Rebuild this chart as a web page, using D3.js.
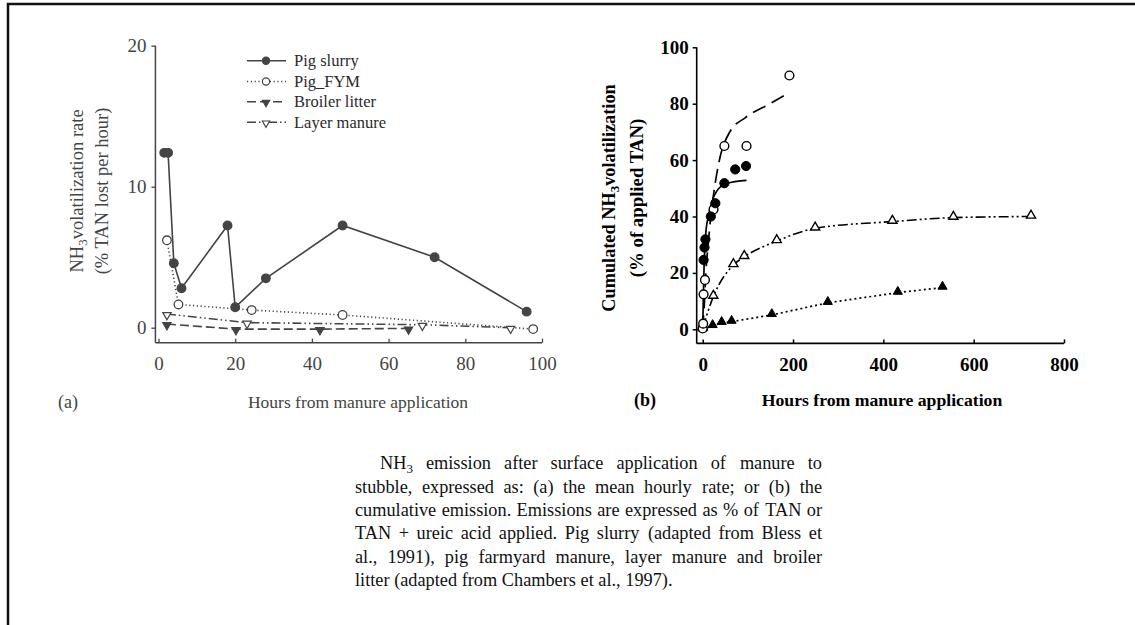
<!DOCTYPE html>
<html>
<head>
<meta charset="utf-8">
<script src="https://cdn.jsdelivr.net/npm/d3@7"></script>
<style>
  html, body { margin: 0; padding: 0; background: #fff; }
  svg { display: block; }
  text { font-family: "Liberation Serif", "Times New Roman", serif; }
</style>
</head>
<body>
<svg id="chart" width="1135" height="625"></svg>
<script>
// ---------------- DATA ----------------
// Panel (a): mean hourly NH3 volatilization rate (% TAN lost per hour)
const rateTicksX = [0, 20, 40, 60, 80, 100];
const rateTicksY = [0, 10, 20];
const slurryRateX = [1.5, 2.5, 4, 6, 18, 20, 28, 48, 72, 96];
const slurryRateY = [12.4, 12.4, 4.57, 2.8, 7.25, 1.45, 3.5, 7.25, 5.0, 1.14];
const fymRateX = [2.2, 5.2, 24.3, 48, 97.7];
const fymRateY = [6.2, 1.65, 1.25, 0.9, -0.1];
const broilerRateX = [2.2, 20.2, 42.1, 65.2];
const broilerRateY = [0.26, -0.1, -0.1, -0.05];
const layerRateX = [2.2, 23.1, 68.8, 91.8];
const layerRateY = [0.97, 0.36, 0.21, 0.0];
const legendLabels = ["Pig slurry", "Pig_FYM", "Broiler litter", "Layer manure"];

// Panel (b): cumulated NH3 volatilization (% of applied TAN)
const cumTicksX = [0, 200, 400, 600, 800];
const cumTicksY = [0, 20, 40, 60, 80, 100];
const slurryCumX = [2, 4, 6, 18, 28, 48, 72, 96];
const slurryCumY = [24.6, 29, 31.9, 40, 44.7, 51.8, 56.7, 57.9];
const slurryFitX = [0, 1.5, 3, 5, 8, 12.5, 20, 31, 53, 97];
const slurryFitY = [0, 12, 22, 30, 36, 40, 45, 49, 51.7, 52.8];
const fymCumX = [0, 1, 2, 5, 24, 48, 97, 192];
const fymCumY = [0.3, 2, 12.4, 17.5, 42.5, 65, 65, 90];
const fymFitX = [0, 2, 4, 7, 12, 18, 26, 37, 60, 94, 149, 182];
const fymFitY = [0, 5, 10, 20, 30, 40, 50, 60, 70, 75, 80, 83];
const layerCumX = [0, 23.6, 68, 92, 164, 249, 420, 555, 727];
const layerCumY = [0.5, 11.6, 22.8, 25.7, 31.3, 35.8, 38.2, 39.6, 40];
const broilerCumX = [0, 22, 42, 64, 153, 277, 432, 531];
const broilerCumY = [0, 1.2, 2.3, 2.7, 5.1, 9.4, 13, 14.8];

// Caption lines (words; "NH_3" marks a subscript)
const captionLines = [
  "NH_3 emission after surface application of manure to",
  "stubble, expressed as: (a) the mean hourly rate; or (b) the",
  "cumulative emission. Emissions are expressed as % of TAN or",
  "TAN + ureic acid applied. Pig slurry (adapted from Bless et",
  "al., 1991), pig farmyard manure, layer manure and broiler",
  "litter (adapted from Chambers et al., 1997)."
];

// ---------------- DRAWING ----------------
const svg = d3.select("#chart");
svg.append("rect").attr("width", 1135).attr("height", 625).attr("fill", "#fff");

// page frame (top and left edges)
svg.append("path").attr("d", "M8,625 V4 H1135")
  .attr("fill", "none").attr("stroke", "#111").attr("stroke-width", 2.5);

const zip = (xs, ys) => xs.map((x, i) => [x, ys[i]]);

// ===== Panel (a) =====
const gA = svg.append("g");
const colA = "#444";
const xL = d3.scaleLinear().domain([0, 100]).range([158.5, 542]);
const yL = d3.scaleLinear().domain([0, 20]).range([327.7, 45.7]);
const xLmin = -0.8, yLmin = -1.06;

gA.append("line").attr("x1", xL(xLmin)).attr("x2", xL(xLmin))
  .attr("y1", yL(20)).attr("y2", yL(yLmin)).attr("stroke", colA).attr("stroke-width", 1.5);
gA.append("line").attr("x1", xL(xLmin)).attr("x2", xL(100))
  .attr("y1", yL(yLmin)).attr("y2", yL(yLmin)).attr("stroke", colA).attr("stroke-width", 1.5);

const axYL = gA.append("g").attr("transform", `translate(${xL(xLmin)},0)`)
  .call(d3.axisLeft(yL).tickValues(rateTicksY).tickSize(4).tickPadding(5).tickFormat(d3.format("d")));
const axXL = gA.append("g").attr("transform", `translate(0,${yL(yLmin)})`)
  .call(d3.axisBottom(xL).tickValues(rateTicksX).tickSize(-4).tickPadding(14).tickFormat(d3.format("d")));
[axYL, axXL].forEach(a => {
  a.select(".domain").remove();
  a.selectAll("line").attr("stroke", colA).attr("stroke-width", 1.3);
  a.selectAll("text").attr("fill", colA).attr("font-size", 19)
    .attr("font-family", "Liberation Serif, serif");
});

const lineA = d3.line().x(d => xL(d[0])).y(d => yL(d[1]));
const seriesA = [
  {x: slurryRateX, y: slurryRateY, dash: null, marker: "circle", fill: colA},
  {x: fymRateX, y: fymRateY, dash: "1.2,2.6", marker: "circle", fill: "#fff"},
  {x: broilerRateX, y: broilerRateY, dash: "9,4", marker: "tri", fill: colA},
  {x: layerRateX, y: layerRateY, dash: "9,3,1.5,3,1.5,3", marker: "tri", fill: "#fff"}
];
const triDown = d3.symbol().type(d3.symbolTriangle).size(30);
seriesA.forEach(s => {
  const pts = zip(s.x, s.y);
  gA.append("path").attr("d", lineA(pts)).attr("fill", "none")
    .attr("stroke", colA).attr("stroke-width", 1.6)
    .attr("stroke-dasharray", s.dash);
});
seriesA.forEach(s => {
  const pts = zip(s.x, s.y);
  if (s.marker === "circle") {
    gA.selectAll(null).data(pts).enter().append("circle")
      .attr("cx", d => xL(d[0])).attr("cy", d => yL(d[1])).attr("r", 4.3)
      .attr("fill", s.fill).attr("stroke", colA).attr("stroke-width", 1.3);
  } else {
    gA.selectAll(null).data(pts).enter().append("path")
      .attr("d", triDown)
      .attr("transform", d => `translate(${xL(d[0])},${yL(d[1]) + 1}) rotate(180)`)
      .attr("fill", s.fill).attr("stroke", colA).attr("stroke-width", 1.2);
  }
});

// legend
const legY = [60.7, 81.5, 101.7, 122.3];
seriesA.forEach((s, i) => {
  const g = gA.append("g").attr("transform", `translate(0,${legY[i]})`);
  g.append("line").attr("x1", 247).attr("x2", 286).attr("y1", 0).attr("y2", 0)
    .attr("stroke", colA).attr("stroke-width", 1.6).attr("stroke-dasharray", s.dash);
  if (s.marker === "circle") {
    g.append("circle").attr("cx", 266).attr("cy", 0).attr("r", 3.6)
      .attr("fill", s.fill).attr("stroke", colA).attr("stroke-width", 1.2);
  } else {
    g.append("path").attr("d", d3.symbol().type(d3.symbolTriangle).size(24))
      .attr("transform", "translate(266,0.8) rotate(180)")
      .attr("fill", s.fill).attr("stroke", colA).attr("stroke-width", 1.1);
  }
  g.append("text").attr("x", 294).attr("y", 0).attr("dy", "0.35em")
    .attr("font-size", 16.5).attr("fill", "#2a2a2a").text(legendLabels[i]);
});

// titles (a)
gA.append("text").attr("x", 68).attr("y", 402).attr("dy", "0.35em").attr("text-anchor", "middle")
  .attr("font-size", 18).attr("fill", colA).text("(a)");
gA.append("text").attr("x", 358).attr("y", 402).attr("dy", "0.35em").attr("text-anchor", "middle")
  .attr("font-size", 17.5).attr("fill", colA).text("Hours from manure application");
const ytA1 = gA.append("text").attr("transform", "translate(76.5,191) rotate(-90)")
  .attr("dy", "0.35em").attr("text-anchor", "middle").attr("font-size", 18.5).attr("fill", colA);
ytA1.append("tspan").text("NH");
ytA1.append("tspan").attr("font-size", 13).attr("dy", 4).text("3");
ytA1.append("tspan").attr("dy", -4).text("volatilization rate");
gA.append("text").attr("transform", "translate(102,191) rotate(-90)")
  .attr("dy", "0.35em").attr("text-anchor", "middle").attr("font-size", 18.5).attr("fill", colA)
  .text("(% TAN lost per hour)");

// ===== Panel (b) =====
const gB = svg.append("g");
const colB = "#000";
const xR = d3.scaleLinear().domain([0, 800]).range([702.7, 1064]);
const yR = d3.scaleLinear().domain([0, 100]).range([329.3, 47.3]);
const xRmin = -13.3, yRmin = -5;

gB.append("line").attr("x1", xR(xRmin)).attr("x2", xR(xRmin))
  .attr("y1", yR(100)).attr("y2", yR(yRmin)).attr("stroke", colB).attr("stroke-width", 1.6);
gB.append("line").attr("x1", xR(xRmin)).attr("x2", xR(800))
  .attr("y1", yR(yRmin)).attr("y2", yR(yRmin)).attr("stroke", colB).attr("stroke-width", 1.6);

const axYR = gB.append("g").attr("transform", `translate(${xR(xRmin)},0)`)
  .call(d3.axisLeft(yR).tickValues(cumTicksY).tickSize(4).tickPadding(4).tickFormat(d3.format("d")));
const axXR = gB.append("g").attr("transform", `translate(0,${yR(yRmin)})`)
  .call(d3.axisBottom(xR).tickValues(cumTicksX).tickSize(-4).tickPadding(14).tickFormat(d3.format("d")));
[axYR, axXR].forEach(a => {
  a.select(".domain").remove();
  a.selectAll("line").attr("stroke", colB).attr("stroke-width", 1.5);
  a.selectAll("text").attr("fill", colB).attr("font-size", 19).attr("font-weight", "bold")
    .attr("font-family", "Liberation Serif, serif");
});

const lineB = d3.line().x(d => xR(d[0])).y(d => yR(d[1]));
const curveB = d3.line().x(d => xR(d[0])).y(d => yR(d[1])).curve(d3.curveMonotoneX);
// fitted curves / connecting lines
gB.append("path").attr("d", curveB(zip(slurryFitX, slurryFitY))).attr("fill", "none")
  .attr("stroke", colB).attr("stroke-width", 1.7);
gB.append("path").attr("d", curveB(zip(fymFitX, fymFitY))).attr("fill", "none")
  .attr("stroke", colB).attr("stroke-width", 1.7).attr("stroke-dasharray", "14,7");
gB.append("path").attr("d", curveB(zip(layerCumX, layerCumY))).attr("fill", "none")
  .attr("stroke", colB).attr("stroke-width", 1.6).attr("stroke-dasharray", "10,3,2,3,2,3");
gB.append("path").attr("d", lineB(zip(broilerCumX, broilerCumY))).attr("fill", "none")
  .attr("stroke", colB).attr("stroke-width", 1.7).attr("stroke-dasharray", "2,3");

const triUp = d3.symbol().type(d3.symbolTriangle).size(36);
gB.selectAll(null).data(zip(broilerCumX, broilerCumY)).enter().append("path")
  .attr("d", triUp).attr("transform", d => `translate(${xR(d[0])},${yR(d[1]) - 1})`)
  .attr("fill", colB).attr("stroke", colB).attr("stroke-width", 1);
gB.selectAll(null).data(zip(layerCumX, layerCumY)).enter().append("path")
  .attr("d", triUp).attr("transform", d => `translate(${xR(d[0])},${yR(d[1]) - 1})`)
  .attr("fill", "#fff").attr("stroke", colB).attr("stroke-width", 1.4);
gB.selectAll(null).data(zip(fymCumX, fymCumY)).enter().append("circle")
  .attr("cx", d => xR(d[0])).attr("cy", d => yR(d[1])).attr("r", 4.4)
  .attr("fill", "#fff").attr("stroke", colB).attr("stroke-width", 1.4);
gB.selectAll(null).data(zip(slurryCumX, slurryCumY)).enter().append("circle")
  .attr("cx", d => xR(d[0])).attr("cy", d => yR(d[1])).attr("r", 4.6)
  .attr("fill", colB).attr("stroke", colB).attr("stroke-width", 1);

// titles (b)
gB.append("text").attr("x", 645).attr("y", 400).attr("dy", "0.35em").attr("text-anchor", "middle")
  .attr("font-size", 18).attr("font-weight", "bold").attr("fill", colB).text("(b)");
gB.append("text").attr("x", 882).attr("y", 400).attr("dy", "0.35em").attr("text-anchor", "middle")
  .attr("font-size", 17.7).attr("font-weight", "bold").attr("fill", colB).text("Hours from manure application");
const ytB1 = gB.append("text").attr("transform", "translate(608.3,198) rotate(-90)")
  .attr("dy", "0.35em").attr("text-anchor", "middle").attr("font-size", 18.3)
  .attr("font-weight", "bold").attr("fill", colB);
ytB1.append("tspan").text("Cumulated NH");
ytB1.append("tspan").attr("font-size", 13).attr("dy", 4).text("3");
ytB1.append("tspan").attr("dy", -4).text("volatilization");
gB.append("text").attr("transform", "translate(636.6,198) rotate(-90)")
  .attr("dy", "0.35em").attr("text-anchor", "middle").attr("font-size", 18.8)
  .attr("font-weight", "bold").attr("fill", colB).text("(% of applied TAN)");

// ===== Caption (justified) =====
const gC = svg.append("g").attr("fill", "#111").attr("font-size", 18.3);
const capBase = [469, 492.5, 516, 539, 562.5, 586];
const capRight = 822;
captionLines.forEach((line, li) => {
  const x0 = li === 0 ? 380 : 355;
  const words = line.split(" ");
  const nodes = words.map(w => {
    const t = gC.append("text").attr("y", capBase[li]);
    if (w.includes("_3")) {
      const parts = w.split("_3");
      t.append("tspan").text(parts[0]);
      t.append("tspan").attr("font-size", 13).attr("dy", 4).text("3");
      if (parts[1]) t.append("tspan").attr("dy", -4).text(parts[1]);
    } else {
      t.text(w);
    }
    return t;
  });
  const widths = nodes.map(n => n.node().getBBox().width);
  const total = d3.sum(widths);
  const justify = li < captionLines.length - 1;
  let gap = justify ? (capRight - x0 - total) / (words.length - 1) : 4.6;
  gap = Math.max(gap, 2.5);
  let x = x0;
  nodes.forEach((n, i) => { n.attr("x", x); x += widths[i] + gap; });
});
</script>
</body>
</html>
